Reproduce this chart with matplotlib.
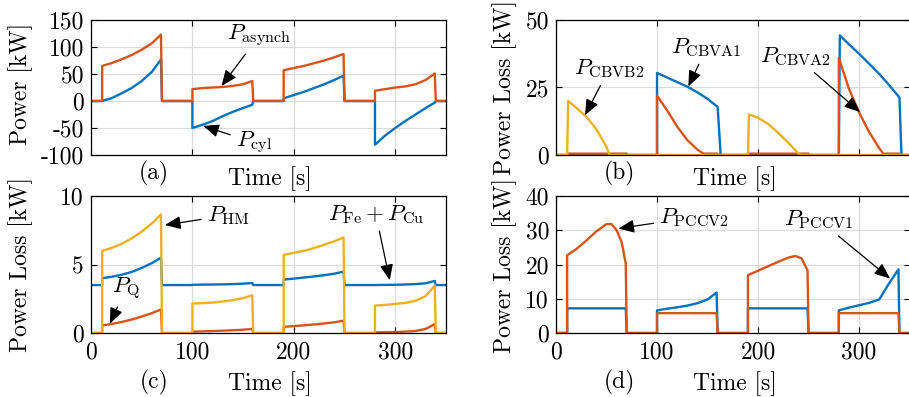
import matplotlib
matplotlib.use("Agg")
import matplotlib.pyplot as plt

plt.rcParams['font.family'] = 'serif'
plt.rcParams['font.serif'] = ['cmr10']
plt.rcParams['mathtext.fontset'] = 'cm'
plt.rcParams['axes.unicode_minus'] = False
plt.rcParams['font.size'] = 17

BLUE = '#0072BD'
ORANGE = '#D95319'
YELLOW = '#EDB120'

# ---- time grid shared by (a) and (c) ----
T = [0, 11, 11, 20, 30, 40, 50, 60, 69, 70,
     100, 100, 110, 120, 130, 140, 150, 159, 160,
     190, 190, 200, 210, 220, 230, 240, 249, 250,
     280, 280, 290, 300, 310, 320, 330, 339, 340, 350]

# (a) power [kW]
p_asynch = [0, 0, 65, 70, 77, 85, 95, 107, 123, 0,
            0, 22, 24, 25, 26, 28, 31, 37, 0,
            0, 57, 61, 65, 70, 75, 81, 87, 0,
            0, 19, 22, 25, 27, 31, 39, 51, 0, 0]
p_cyl = [0, 0, 0, 5, 14, 24, 37, 54, 77, 0,
         0, -50, -44, -37, -28, -20, -13, -7, 0,
         0, 5, 11, 17, 24, 31, 39, 47, 0,
         0, -81, -64, -50, -37, -25, -13, -3, 0, 0]

# (c) power loss [kW]
p_hm = [0, 0, 6.0, 6.2, 6.5, 6.9, 7.4, 8.0, 8.65, 0,
        0, 2.15, 2.18, 2.22, 2.3, 2.4, 2.55, 2.75, 0,
        0, 5.7, 5.85, 6.0, 6.2, 6.45, 6.7, 6.97, 0,
        0, 2.0, 2.05, 2.12, 2.2, 2.35, 2.7, 3.45, 0, 0]
p_fecu = [3.5, 3.5, 4.0, 4.1, 4.25, 4.45, 4.75, 5.1, 5.5, 3.5,
          3.5, 3.52, 3.53, 3.54, 3.55, 3.57, 3.6, 3.65, 3.5,
          3.5, 3.9, 3.97, 4.05, 4.13, 4.22, 4.33, 4.48, 3.5,
          3.5, 3.5, 3.51, 3.52, 3.54, 3.57, 3.63, 3.8, 3.5, 3.5]
p_q = [0, 0, 0.56, 0.65, 0.8, 0.98, 1.2, 1.45, 1.72, 0,
       0, 0.1, 0.12, 0.14, 0.17, 0.2, 0.24, 0.3, 0,
       0, 0.45, 0.5, 0.56, 0.62, 0.7, 0.78, 0.9, 0,
       0, 0.05, 0.06, 0.07, 0.1, 0.15, 0.3, 0.65, 0, 0]

# (b) valve losses [kW]
t_cbvb2 = [0, 11, 12, 20, 30, 40, 50, 53, 190, 191, 200, 210, 220, 230, 240, 242, 350]
p_cbvb2 = [0, 0, 20, 17.5, 14.2, 9.5, 3.0, 0, 0, 15, 13.8, 11.5, 8.2, 4.5, 0.6, 0, 0]
t_cbva1 = [0, 100, 100, 110, 120, 130, 140, 150, 160, 163,
           280, 281, 290, 300, 310, 320, 330, 340, 342, 350]
p_cbva1 = [0, 0, 30.4, 28.7, 27, 25.3, 23.2, 20.8, 17.8, 0,
           0, 44.3, 41, 37.5, 33.8, 30, 25.8, 21.3, 0, 0]
t_cbva2 = [0, 11, 11, 70, 70, 100, 100, 110, 120, 130, 140, 146, 160, 160,
           190, 190, 250, 250, 280, 280, 290, 300, 310, 320, 324, 340, 340, 350]
p_cbva2 = [0, 0, 0.5, 0.5, 0, 0, 22, 16.5, 10.5, 5.5, 2, 0.5, 0.5, 0,
           0, 0.5, 0.5, 0, 0, 36, 24.5, 15.8, 8.5, 2.5, 0.5, 0.5, 0, 0]

# (d) converter losses [kW]
TD = [0, 11, 11, 20, 30, 40, 50, 55, 60, 65, 69, 70,
      100, 100, 110, 120, 130, 140, 150, 159, 160,
      190, 190, 200, 210, 220, 230, 237, 243, 249, 250,
      280, 280, 290, 300, 310, 320, 325, 330, 335, 339, 340, 350]
p_pccv2 = [0, 0, 22.7, 24.5, 27, 29.7, 31.8, 31.8, 30, 26.5, 20.3, 0,
           0, 5.8, 5.8, 5.8, 5.8, 5.8, 5.8, 5.8, 0,
           0, 16.9, 18.2, 19.5, 20.8, 22, 22.5, 21.8, 18.3, 0,
           0, 5.8, 5.8, 5.8, 5.8, 5.8, 5.8, 5.8, 5.8, 5.8, 0, 0]
p_pccv1 = [0, 0, 7.2, 7.2, 7.2, 7.2, 7.2, 7.2, 7.2, 7.2, 7.2, 0,
           0, 6.6, 7.1, 7.5, 8.0, 8.7, 9.8, 11.8, 0,
           0, 7.2, 7.2, 7.2, 7.2, 7.2, 7.2, 7.2, 7.2, 0,
           0, 6.6, 7.4, 8.1, 8.8, 9.8, 12.2, 14.6, 16.8, 18.6, 0, 0]

LW = 1.7
ANN_SIZE = 16.5
ARROW = dict(arrowstyle='-|>,head_length=0.6,head_width=0.25', color='k',
             lw=0.9, mutation_scale=16, shrinkB=0)

fig = plt.figure(figsize=(9.09, 3.97), dpi=100)
ax_a = fig.add_axes([0.1001, 0.6096, 0.3905, 0.3400])
ax_b = fig.add_axes([0.6117, 0.6096, 0.3889, 0.3400])
ax_c = fig.add_axes([0.1001, 0.1612, 0.3905, 0.3451])
ax_d = fig.add_axes([0.6117, 0.1612, 0.3889, 0.3451])

for ax in (ax_a, ax_b, ax_c, ax_d):
    ax.set_xlim(0, 350)
    ax.set_xticks([0, 100, 200, 300])
    ax.grid(True, color='#dcdcdc', lw=0.9)
    ax.set_axisbelow(True)
    ax.tick_params(direction='in', top=True, right=True, length=4, width=0.8,
                   pad=5, labelsize=17)
    ax.tick_params(axis='x', pad=6)
    for s in ax.spines.values():
        s.set_linewidth(0.9)

# (a)
ax_a.plot(T, p_cyl, color=BLUE, lw=LW)
ax_a.plot(T, p_asynch, color=ORANGE, lw=LW)
ax_a.set_ylim(-100, 150)
ax_a.set_yticks([-100, -50, 0, 50, 100, 150])
ax_a.set_ylabel('Power [kW]')
ax_a.annotate(r'$P_\mathrm{asynch}$', xy=(128.7, 27.8), xytext=(165.5, 120),
              ha='center', va='center', fontsize=ANN_SIZE, arrowprops=ARROW)
ax_a.annotate(r'$P_\mathrm{cyl}$', xy=(110.6, -46), xytext=(160.6, -77),
              ha='center', va='center', fontsize=ANN_SIZE, arrowprops=ARROW)

# (b)
ax_b.plot(t_cbva1, p_cbva1, color=BLUE, lw=LW)
ax_b.plot(t_cbva2, p_cbva2, color=ORANGE, lw=LW)
ax_b.plot(t_cbvb2, p_cbvb2, color=YELLOW, lw=LW)
ax_b.set_ylim(0, 50)
ax_b.set_yticks([0, 25, 50])
ax_b.set_ylabel('Power Loss [kW]')
ax_b.annotate(r'$P_\mathrm{CBVB2}$', xy=(28.7, 14.7), xytext=(52.5, 31.9),
              ha='center', va='center', fontsize=ANN_SIZE, arrowprops=ARROW)
ax_b.annotate(r'$P_\mathrm{CBVA1}$', xy=(131, 25.4), xytext=(149.2, 39.8),
              ha='center', va='center', fontsize=ANN_SIZE, arrowprops=ARROW)
ax_b.annotate(r'$P_\mathrm{CBVA2}$', xy=(301, 15.9), xytext=(237.3, 36.5),
              ha='center', va='center', fontsize=ANN_SIZE, arrowprops=ARROW)

# (c)
ax_c.plot(T, p_fecu, color=BLUE, lw=LW)
ax_c.plot(T, p_q, color=ORANGE, lw=LW)
ax_c.plot(T, p_hm, color=YELLOW, lw=LW)
ax_c.set_ylim(0, 10)
ax_c.set_yticks([0, 5, 10])
ax_c.set_ylabel('Power Loss [kW]')
ax_c.annotate(r'$P_\mathrm{HM}$', xy=(72.9, 7.88), xytext=(135.3, 8.6),
              ha='center', va='center', fontsize=ANN_SIZE, arrowprops=ARROW)
ax_c.annotate(r'$P_\mathrm{Fe} + P_\mathrm{Cu}$', xy=(294.6, 3.85), xytext=(280.8, 8.68),
              ha='center', va='center', fontsize=ANN_SIZE, arrowprops=ARROW)
ax_c.annotate(r'$P_\mathrm{Q}$', xy=(18.7, 0.68), xytext=(34.2, 3.24),
              ha='center', va='center', fontsize=ANN_SIZE, arrowprops=ARROW)

# (d)
ax_d.plot(TD, p_pccv1, color=BLUE, lw=LW)
ax_d.plot(TD, p_pccv2, color=ORANGE, lw=LW)
ax_d.set_ylim(0, 40)
ax_d.set_yticks([0, 10, 20, 30, 40])
ax_d.set_ylabel('Power Loss [kW]')
ax_d.annotate(r'$P_\mathrm{PCCV2}$', xy=(61.7, 30.5), xytext=(136.6, 33.8),
              ha='center', va='center', fontsize=ANN_SIZE, arrowprops=ARROW)
ax_d.annotate(r'$P_\mathrm{PCCV1}$', xy=(330.7, 15.9), xytext=(260.4, 33),
              ha='center', va='center', fontsize=ANN_SIZE, arrowprops=ARROW)

# top row: no x tick labels
for ax in (ax_a, ax_b):
    ax.set_xticklabels([])

ax_a.yaxis.set_label_coords(-0.163, 0.53)
ax_c.yaxis.set_label_coords(-0.163, 0.5)
ax_b.yaxis.set_label_coords(-0.11, 0.5)
ax_d.yaxis.set_label_coords(-0.11, 0.49)

for ax, tag, y_lab, y_tag in ((ax_a, '(a)', -0.087, -0.14), (ax_b, '(b)', -0.087, -0.14),
                              (ax_c, '(c)', -0.278, -0.358), (ax_d, '(d)', -0.278, -0.358)):
    ax.set_xlabel('Time [s]')
    ax.xaxis.set_label_coords(0.505, y_lab)
    ax.text(0.178, y_tag, tag, transform=ax.transAxes, ha='center', va='center')

fig.savefig('out.png', dpi=100)
